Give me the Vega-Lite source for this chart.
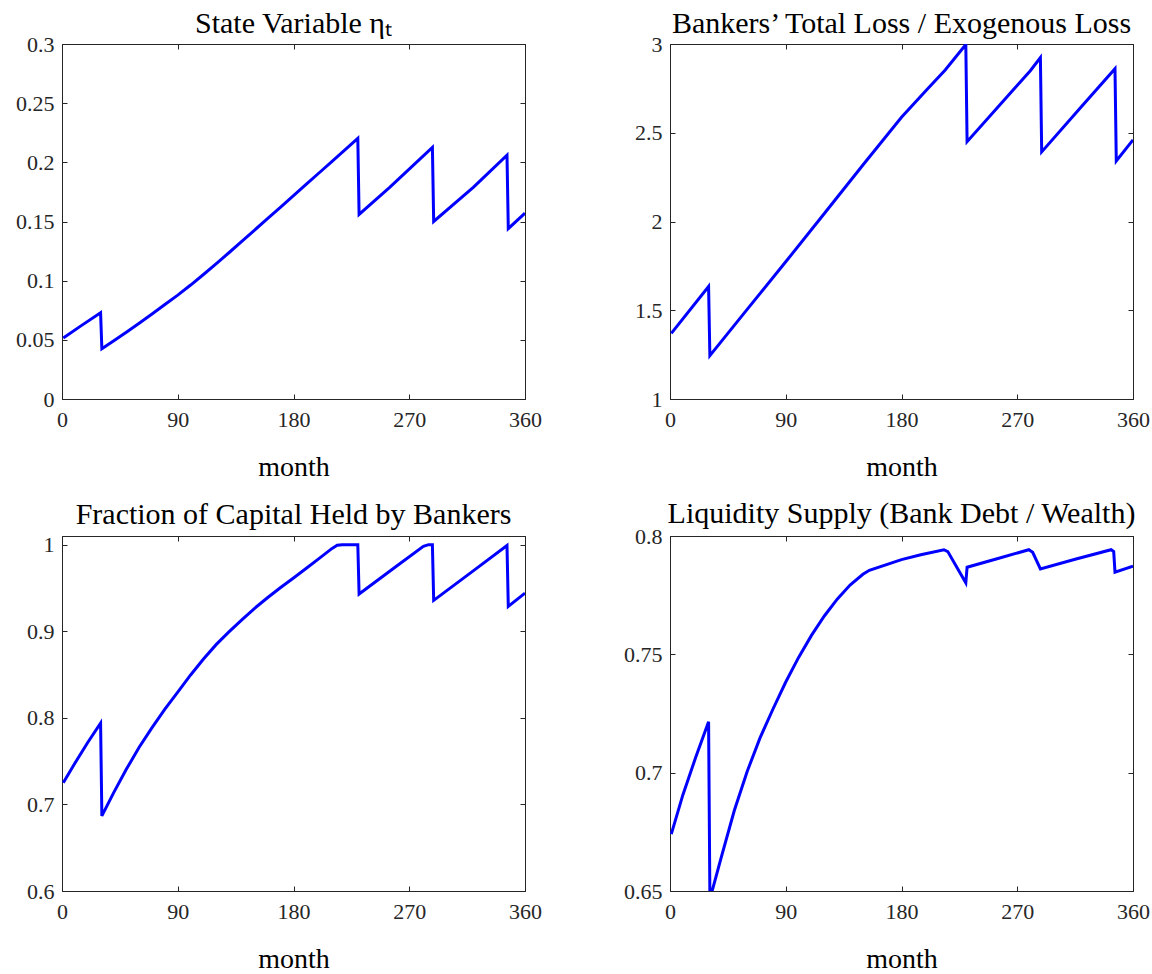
{
  "$schema": "https://vega.github.io/schema/vega-lite/v6.json",
  "padding": {"left": 15, "top": 8, "right": 5, "bottom": 5},
  "background": "white",
  "datasets": {
    "eta": [
      {"month": 1, "value": 0.0515}, {"month": 15, "value": 0.062}, {"month": 30, "value": 0.0728},
      {"month": 31, "value": 0.0424}, {"month": 40, "value": 0.049}, {"month": 50, "value": 0.0564}, {"month": 60, "value": 0.064},
      {"month": 70, "value": 0.0718}, {"month": 80, "value": 0.0798}, {"month": 90, "value": 0.0878}, {"month": 100, "value": 0.0963},
      {"month": 110, "value": 0.1052}, {"month": 120, "value": 0.1144}, {"month": 130, "value": 0.1238}, {"month": 140, "value": 0.1334},
      {"month": 150, "value": 0.143}, {"month": 160, "value": 0.1526}, {"month": 170, "value": 0.1622}, {"month": 180, "value": 0.1718},
      {"month": 190, "value": 0.1815}, {"month": 200, "value": 0.1912}, {"month": 210, "value": 0.2009}, {"month": 220, "value": 0.2106},
      {"month": 230, "value": 0.2203}, {"month": 231, "value": 0.156},
      {"month": 255, "value": 0.179}, {"month": 288, "value": 0.2127}, {"month": 289, "value": 0.150}, {"month": 320, "value": 0.179},
      {"month": 346, "value": 0.206}, {"month": 347, "value": 0.144}, {"month": 360, "value": 0.157}
    ],
    "loss": [
      {"month": 1, "value": 1.37}, {"month": 30, "value": 1.634}, {"month": 31, "value": 1.244}, {"month": 60, "value": 1.505},
      {"month": 90, "value": 1.773}, {"month": 120, "value": 2.045}, {"month": 150, "value": 2.318}, {"month": 180, "value": 2.587},
      {"month": 200, "value": 2.745}, {"month": 214, "value": 2.854}, {"month": 222, "value": 2.925}, {"month": 230, "value": 2.997},
      {"month": 231, "value": 2.450}, {"month": 255, "value": 2.645}, {"month": 280, "value": 2.848}, {"month": 288, "value": 2.923},
      {"month": 289, "value": 2.392}, {"month": 320, "value": 2.648}, {"month": 346, "value": 2.861}, {"month": 347, "value": 2.341},
      {"month": 360, "value": 2.46}
    ],
    "frac": [
      {"month": 1, "value": 0.725}, {"month": 10, "value": 0.7475}, {"month": 20, "value": 0.7715}, {"month": 30, "value": 0.7938},
      {"month": 31, "value": 0.6867}, {"month": 40, "value": 0.713}, {"month": 50, "value": 0.7405}, {"month": 60, "value": 0.766},
      {"month": 70, "value": 0.7887}, {"month": 80, "value": 0.81}, {"month": 90, "value": 0.8297}, {"month": 100, "value": 0.8495},
      {"month": 110, "value": 0.868}, {"month": 120, "value": 0.8848}, {"month": 130, "value": 0.8995}, {"month": 140, "value": 0.9135},
      {"month": 150, "value": 0.9268}, {"month": 160, "value": 0.939}, {"month": 170, "value": 0.9505}, {"month": 180, "value": 0.9615},
      {"month": 190, "value": 0.9728}, {"month": 200, "value": 0.9842}, {"month": 210, "value": 0.9957}, {"month": 214, "value": 0.9993},
      {"month": 218, "value": 1.0}, {"month": 230, "value": 1.0}, {"month": 231, "value": 0.943}, {"month": 260, "value": 0.975},
      {"month": 281, "value": 0.998}, {"month": 285, "value": 1.0}, {"month": 288, "value": 1.0}, {"month": 289, "value": 0.9356},
      {"month": 320, "value": 0.97}, {"month": 346, "value": 0.999}, {"month": 347, "value": 0.9287}, {"month": 360, "value": 0.944}
    ],
    "liq": [
      {"month": 1, "value": 0.674}, {"month": 10, "value": 0.6906}, {"month": 20, "value": 0.7065}, {"month": 30, "value": 0.7215},
      {"month": 31, "value": 0.649}, {"month": 33, "value": 0.6505}, {"month": 40, "value": 0.6645}, {"month": 50, "value": 0.684},
      {"month": 60, "value": 0.7005}, {"month": 70, "value": 0.7147}, {"month": 80, "value": 0.7268}, {"month": 90, "value": 0.7383},
      {"month": 100, "value": 0.7487}, {"month": 110, "value": 0.758}, {"month": 120, "value": 0.7662}, {"month": 130, "value": 0.7733},
      {"month": 140, "value": 0.7793}, {"month": 150, "value": 0.7838}, {"month": 155, "value": 0.7855}, {"month": 180, "value": 0.790},
      {"month": 195, "value": 0.7921}, {"month": 213, "value": 0.7942},
      {"month": 216, "value": 0.7934}, {"month": 223, "value": 0.7868}, {"month": 230, "value": 0.7802}, {"month": 231, "value": 0.7868},
      {"month": 255, "value": 0.7905}, {"month": 279, "value": 0.7942}, {"month": 282, "value": 0.7931}, {"month": 288, "value": 0.7861},
      {"month": 315, "value": 0.7902}, {"month": 343, "value": 0.7942}, {"month": 345, "value": 0.7934}, {"month": 346, "value": 0.7847},
      {"month": 360, "value": 0.7872}
    ]
  },
  "columns": 2,
  "bounds": "flush",
  "spacing": {"row": 137, "column": 145},
  "concat": [
    {
      "width": 463, "height": 355,
      "title": {"text": "State Variable ηₜ", "offset": -6},
      "data": {"name": "eta"},
      "layer": [
        {"mark": {"type": "line", "color": "#0000ff", "strokeWidth": 3, "clip": true},
         "encoding": {
           "x": {"field": "month", "type": "quantitative", "scale": {"domain": [0, 360], "nice": false}, "axis": {"values": [0, 90, 180, 270, 360], "title": "month"}},
           "y": {"field": "value", "type": "quantitative", "scale": {"domain": [0, 0.3], "nice": false, "zero": false}, "axis": {"values": [0, 0.05, 0.1, 0.15, 0.2, 0.25, 0.3], "format": "~g", "title": null}}
         }},
        {"mark": {"type": "line", "opacity": 0},
         "encoding": {
           "x": {"field": "month", "type": "quantitative", "scale": {"domain": [0, 360], "nice": false}, "axis": {"orient": "top", "values": [0, 90, 180, 270, 360], "labels": false, "title": null}},
           "y": {"field": "value", "type": "quantitative", "scale": {"domain": [0, 0.3], "nice": false, "zero": false}, "axis": {"orient": "right", "values": [0, 0.05, 0.1, 0.15, 0.2, 0.25, 0.3], "labels": false, "title": null}}
         }}
      ],
      "resolve": {"axis": {"x": "independent", "y": "independent"}}
    },
    {
      "width": 463, "height": 355,
      "title": {"text": "Bankers’ Total Loss / Exogenous Loss", "offset": -6},
      "data": {"name": "loss"},
      "layer": [
        {"mark": {"type": "line", "color": "#0000ff", "strokeWidth": 3, "clip": true},
         "encoding": {
           "x": {"field": "month", "type": "quantitative", "scale": {"domain": [0, 360], "nice": false}, "axis": {"values": [0, 90, 180, 270, 360], "title": "month"}},
           "y": {"field": "value", "type": "quantitative", "scale": {"domain": [1, 3], "nice": false, "zero": false}, "axis": {"values": [1, 1.5, 2, 2.5, 3], "format": "~g", "title": null}}
         }},
        {"mark": {"type": "line", "opacity": 0},
         "encoding": {
           "x": {"field": "month", "type": "quantitative", "scale": {"domain": [0, 360], "nice": false}, "axis": {"orient": "top", "values": [0, 90, 180, 270, 360], "labels": false, "title": null}},
           "y": {"field": "value", "type": "quantitative", "scale": {"domain": [1, 3], "nice": false, "zero": false}, "axis": {"orient": "right", "values": [1, 1.5, 2, 2.5, 3], "labels": false, "title": null}}
         }}
      ],
      "resolve": {"axis": {"x": "independent", "y": "independent"}}
    },
    {
      "width": 463, "height": 355,
      "title": {"text": "Fraction of Capital Held by Bankers", "offset": 4},
      "data": {"name": "frac"},
      "layer": [
        {"mark": {"type": "line", "color": "#0000ff", "strokeWidth": 3, "clip": true},
         "encoding": {
           "x": {"field": "month", "type": "quantitative", "scale": {"domain": [0, 360], "nice": false}, "axis": {"values": [0, 90, 180, 270, 360], "title": "month"}},
           "y": {"field": "value", "type": "quantitative", "scale": {"domain": [0.6, 1.01], "nice": false, "zero": false}, "axis": {"values": [0.6, 0.7, 0.8, 0.9, 1], "format": "~g", "title": null}}
         }},
        {"mark": {"type": "line", "opacity": 0},
         "encoding": {
           "x": {"field": "month", "type": "quantitative", "scale": {"domain": [0, 360], "nice": false}, "axis": {"orient": "top", "values": [0, 90, 180, 270, 360], "labels": false, "title": null}},
           "y": {"field": "value", "type": "quantitative", "scale": {"domain": [0.6, 1.01], "nice": false, "zero": false}, "axis": {"orient": "right", "values": [0.6, 0.7, 0.8, 0.9, 1], "labels": false, "title": null}}
         }}
      ],
      "resolve": {"axis": {"x": "independent", "y": "independent"}}
    },
    {
      "width": 463, "height": 355,
      "title": {"text": "Liquidity Supply (Bank Debt / Wealth)", "offset": -4},
      "data": {"name": "liq"},
      "layer": [
        {"mark": {"type": "line", "color": "#0000ff", "strokeWidth": 3, "clip": true},
         "encoding": {
           "x": {"field": "month", "type": "quantitative", "scale": {"domain": [0, 360], "nice": false}, "axis": {"values": [0, 90, 180, 270, 360], "title": "month"}},
           "y": {"field": "value", "type": "quantitative", "scale": {"domain": [0.65, 0.8], "nice": false, "zero": false}, "axis": {"values": [0.65, 0.7, 0.75, 0.8], "format": "~g", "title": null}}
         }},
        {"mark": {"type": "line", "opacity": 0},
         "encoding": {
           "x": {"field": "month", "type": "quantitative", "scale": {"domain": [0, 360], "nice": false}, "axis": {"orient": "top", "values": [0, 90, 180, 270, 360], "labels": false, "title": null}},
           "y": {"field": "value", "type": "quantitative", "scale": {"domain": [0.65, 0.8], "nice": false, "zero": false}, "axis": {"orient": "right", "values": [0.65, 0.7, 0.75, 0.8], "labels": false, "title": null}}
         }}
      ],
      "resolve": {"axis": {"x": "independent", "y": "independent"}}
    }
  ],
  "config": {
    "font": "Liberation Serif",
    "view": {"stroke": "#262626", "strokeWidth": 1},
    "axis": {
      "grid": false,
      "domainColor": "#262626",
      "domainWidth": 1,
      "tickColor": "#262626",
      "tickWidth": 1,
      "tickSize": -5,
      "labelColor": "#262626",
      "labelFont": "Liberation Serif",
      "labelFontSize": 22,
      "labelFlush": false,
      "labelOverlap": false,
      "labelPadding": 15,
      "titleFont": "Liberation Serif",
      "titleFontSize": 28,
      "titleFontWeight": "normal",
      "titleColor": "#000000",
      "titlePadding": 23
    },
    "axisY": {"labelPadding": 13},
    "title": {"font": "Liberation Serif", "fontSize": 30, "fontWeight": "normal", "color": "#000000"}
  }
}
